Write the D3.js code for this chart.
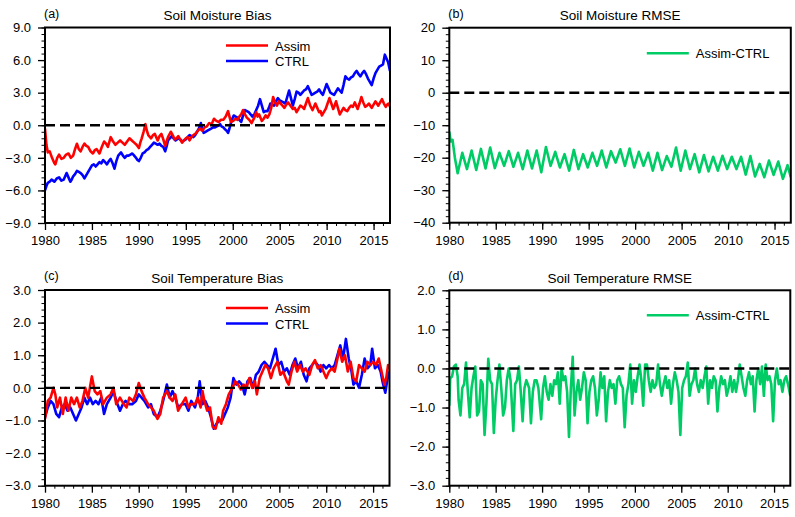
<!DOCTYPE html>
<html><head><meta charset="utf-8">
<script src="https://cdn.jsdelivr.net/npm/d3@7"></script>
<style>
html,body{margin:0;padding:0;background:#fff;}
svg{display:block;font-family:"Liberation Sans",Arial,Helvetica,sans-serif;}
</style></head>
<body>
<svg id="chart" width="795" height="517"></svg>
<script>
// ---------- DATA ----------
const xTickYears = [1980,1985,1990,1995,2000,2005,2010,2015];
const panelTitles = ["Soil Moisture Bias","Soil Moisture RMSE","Soil Temperature Bias","Soil Temperature RMSE"];
const panelLetters = ["(a)","(b)","(c)","(d)"];
const yTicksA = [-9,-6,-3,0,3,6,9];
const yTicksB = [-40,-30,-20,-10,0,10,20];
const yTicksC = [-3,-2,-1,0,1,2,3];
const yTicksD = [-3,-2,-1,0,1,2];
const legendA = ["Assim","CTRL"];
const legendB = ["Assim-CTRL"];

// (a) soil moisture bias, Assim
const smBiasAssim = [[1980.0,-0.3],[1980.15,-1.8],[1980.3,-2.5],[1980.5,-2.4],[1980.75,-3.0],[1981.0,-3.5],[1981.1,-3.6],[1981.3,-3.0],[1981.5,-2.7],[1981.75,-3.1],[1982.0,-3.0],[1982.25,-2.7],[1982.5,-2.6],[1982.75,-3.0],[1983.0,-2.8],[1983.2,-2.2],[1983.4,-1.7],[1983.6,-2.2],[1983.8,-2.4],[1984.0,-2.0],[1984.2,-1.7],[1984.4,-1.9],[1984.6,-2.0],[1984.85,-2.4],[1985.1,-2.6],[1985.3,-2.3],[1985.5,-2.2],[1985.8,-2.6],[1986.05,-2.0],[1986.3,-1.5],[1986.5,-1.7],[1986.7,-2.0],[1987.0,-1.1],[1987.25,-1.5],[1987.5,-1.8],[1987.75,-1.6],[1988.0,-1.4],[1988.25,-1.6],[1988.5,-1.8],[1988.75,-1.5],[1989.0,-1.2],[1989.25,-1.4],[1989.5,-1.6],[1989.75,-1.8],[1990.0,-2.1],[1990.15,-1.6],[1990.3,-1.2],[1990.5,-0.6],[1990.7,0.1],[1990.85,-0.5],[1991.0,-0.9],[1991.3,-1.2],[1991.5,-0.9],[1991.7,-0.8],[1992.0,-1.4],[1992.2,-1.0],[1992.4,-0.8],[1992.6,-1.3],[1992.8,-1.9],[1993.1,-1.1],[1993.4,-0.6],[1993.6,-0.9],[1993.8,-1.3],[1994.0,-1.2],[1994.2,-1.0],[1994.4,-1.3],[1994.6,-1.6],[1994.8,-1.4],[1995.0,-1.2],[1995.2,-1.1],[1995.4,-1.4],[1995.6,-1.1],[1995.8,-0.9],[1996.0,-0.8],[1996.2,-0.6],[1996.5,-0.3],[1996.75,-0.5],[1997.0,-0.2],[1997.25,-0.1],[1997.5,0.2],[1997.75,0.1],[1998.0,0.6],[1998.25,0.4],[1998.5,0.3],[1998.75,0.5],[1999.0,0.5],[1999.25,0.8],[1999.5,1.3],[1999.65,0.8],[1999.8,0.3],[2000.05,0.4],[2000.3,0.6],[2000.5,0.5],[2000.7,0.8],[2000.9,1.0],[2001.1,1.4],[2001.3,1.0],[2001.5,0.7],[2001.75,0.5],[2002.0,0.2],[2002.25,0.6],[2002.5,1.2],[2002.65,0.8],[2002.8,1.0],[2003.1,0.4],[2003.3,0.6],[2003.5,0.9],[2003.7,0.7],[2003.9,1.0],[2004.1,1.6],[2004.3,2.6],[2004.5,2.1],[2004.7,1.8],[2004.9,2.2],[2005.1,2.0],[2005.3,1.8],[2005.5,1.6],[2005.7,1.9],[2005.9,2.1],[2006.15,1.8],[2006.4,1.5],[2006.6,1.6],[2006.8,1.2],[2007.0,1.5],[2007.2,1.8],[2007.4,1.7],[2007.6,1.5],[2007.8,2.0],[2008.0,2.5],[2008.25,1.8],[2008.5,1.4],[2008.65,1.7],[2008.8,2.0],[2009.0,1.6],[2009.2,1.2],[2009.35,1.3],[2009.5,0.9],[2009.7,1.2],[2009.9,1.5],[2010.1,2.0],[2010.3,2.5],[2010.5,2.0],[2010.7,1.5],[2010.85,1.8],[2011.0,2.2],[2011.2,1.6],[2011.4,1.0],[2011.6,1.3],[2011.8,1.6],[2012.0,1.4],[2012.2,1.3],[2012.4,1.6],[2012.6,1.8],[2012.8,1.7],[2013.0,2.1],[2013.15,1.8],[2013.3,1.5],[2013.5,2.0],[2013.7,2.6],[2013.9,2.1],[2014.1,1.7],[2014.3,1.8],[2014.5,2.0],[2014.65,1.8],[2014.8,1.6],[2015.0,1.9],[2015.2,2.2],[2015.35,2.0],[2015.5,1.8],[2015.7,2.1],[2015.9,2.4],[2016.1,2.0],[2016.3,1.7],[2016.45,1.9],[2016.6,2.0],[2016.75,1.7]];
// (a) soil moisture bias, CTRL
const smBiasCtrl = [[1980.0,-6.0],[1980.15,-5.6],[1980.3,-5.3],[1980.5,-5.2],[1980.7,-5.0],[1980.85,-5.1],[1981.0,-5.2],[1981.25,-4.9],[1981.5,-4.8],[1981.75,-5.1],[1982.0,-5.0],[1982.3,-4.4],[1982.5,-4.8],[1982.7,-5.2],[1982.85,-5.0],[1983.0,-4.7],[1983.2,-4.5],[1983.4,-4.2],[1983.6,-4.3],[1983.8,-4.4],[1984.0,-4.6],[1984.2,-4.9],[1984.4,-4.6],[1984.6,-4.3],[1984.8,-4.0],[1985.0,-3.7],[1985.2,-3.6],[1985.4,-3.8],[1985.6,-3.6],[1985.8,-3.4],[1986.0,-3.5],[1986.2,-3.2],[1986.4,-3.4],[1986.6,-3.6],[1986.8,-3.3],[1987.0,-3.1],[1987.2,-3.5],[1987.4,-4.0],[1987.6,-3.3],[1987.8,-2.8],[1988.1,-2.5],[1988.3,-2.8],[1988.5,-3.0],[1988.7,-2.8],[1988.9,-2.8],[1989.1,-2.7],[1989.3,-2.6],[1989.5,-2.8],[1989.7,-3.0],[1989.85,-3.2],[1990.0,-3.3],[1990.2,-3.0],[1990.4,-2.6],[1990.6,-2.5],[1990.8,-2.3],[1991.0,-2.2],[1991.2,-2.0],[1991.4,-1.8],[1991.6,-1.6],[1991.8,-1.7],[1992.0,-1.8],[1992.2,-1.7],[1992.4,-1.9],[1992.6,-2.0],[1992.8,-2.4],[1993.0,-1.8],[1993.1,-1.4],[1993.3,-1.2],[1993.5,-1.0],[1993.7,-1.2],[1993.9,-1.4],[1994.05,-1.3],[1994.2,-1.2],[1994.4,-1.3],[1994.6,-1.5],[1994.8,-1.4],[1995.0,-1.3],[1995.2,-1.1],[1995.4,-0.9],[1995.6,-1.0],[1995.8,-1.1],[1996.0,-0.9],[1996.2,-0.6],[1996.4,-0.3],[1996.6,0.2],[1996.75,-0.3],[1996.9,-0.7],[1997.1,-0.6],[1997.3,-0.5],[1997.5,-0.4],[1997.7,-0.3],[1997.9,-0.2],[1998.1,-0.2],[1998.3,-0.1],[1998.5,0.0],[1998.65,0.1],[1998.8,-0.1],[1999.0,-0.2],[1999.2,-0.4],[1999.35,-0.5],[1999.5,-0.7],[1999.65,-0.3],[1999.8,0.2],[1999.95,0.6],[2000.1,0.9],[2000.3,0.8],[2000.5,0.7],[2000.7,0.5],[2000.9,0.3],[2001.1,0.9],[2001.3,1.4],[2001.5,1.3],[2001.7,1.2],[2001.9,1.0],[2002.1,0.8],[2002.3,1.0],[2002.5,1.4],[2002.7,1.8],[2002.9,2.4],[2003.1,1.8],[2003.3,1.2],[2003.5,1.3],[2003.7,1.3],[2003.85,1.6],[2004.0,2.0],[2004.2,1.9],[2004.4,1.8],[2004.6,2.2],[2004.8,2.5],[2005.0,2.3],[2005.2,2.2],[2005.4,2.1],[2005.6,2.0],[2005.8,2.6],[2006.0,3.2],[2006.2,2.5],[2006.4,1.8],[2006.6,2.4],[2006.8,3.1],[2007.0,3.0],[2007.2,2.8],[2007.4,3.0],[2007.6,3.2],[2007.8,3.3],[2008.0,3.6],[2008.2,3.2],[2008.4,2.8],[2008.6,2.9],[2008.8,3.0],[2009.0,3.1],[2009.2,3.3],[2009.4,3.0],[2009.6,2.8],[2009.8,3.3],[2010.0,3.8],[2010.2,3.4],[2010.4,3.0],[2010.6,2.9],[2010.8,2.8],[2011.0,3.1],[2011.2,3.4],[2011.4,3.2],[2011.6,3.0],[2011.8,3.7],[2012.0,4.5],[2012.2,4.3],[2012.4,4.2],[2012.6,4.4],[2012.8,4.5],[2013.0,4.8],[2013.2,5.0],[2013.4,4.7],[2013.6,4.5],[2013.8,4.8],[2014.0,5.0],[2014.2,4.7],[2014.4,4.3],[2014.6,4.0],[2014.8,3.7],[2015.0,4.3],[2015.2,4.8],[2015.4,5.1],[2015.6,5.4],[2015.8,5.5],[2016.0,5.6],[2016.2,6.5],[2016.4,6.1],[2016.55,5.8],[2016.75,5.0]];
// (b) soil moisture RMSE difference
const smRmse = [[1980.0,-12.0],[1980.15,-15.0],[1980.35,-14.5],[1980.6,-20.0],[1980.9,-24.8],[1981.4,-18.5],[1981.9,-23.5],[1982.4,-17.8],[1982.9,-23.8],[1983.4,-17.3],[1983.9,-23.3],[1984.4,-16.9],[1984.9,-23.2],[1985.4,-18.5],[1985.9,-22.5],[1986.4,-18.0],[1986.9,-22.8],[1987.4,-18.5],[1987.9,-23.5],[1988.4,-17.8],[1988.9,-23.3],[1989.4,-17.8],[1989.9,-24.5],[1990.4,-16.7],[1990.9,-22.5],[1991.4,-18.2],[1991.9,-23.0],[1992.4,-18.9],[1992.9,-24.0],[1993.4,-17.6],[1993.9,-23.5],[1994.4,-18.9],[1994.9,-23.0],[1995.4,-18.5],[1995.9,-22.5],[1996.4,-17.8],[1996.9,-23.0],[1997.4,-18.0],[1997.9,-21.5],[1998.4,-17.4],[1998.9,-22.5],[1999.4,-17.2],[1999.9,-23.0],[2000.4,-18.2],[2000.9,-22.5],[2001.4,-18.5],[2001.9,-24.0],[2002.4,-18.5],[2002.9,-23.8],[2003.4,-19.5],[2003.9,-22.8],[2004.4,-16.9],[2004.9,-24.0],[2005.4,-17.8],[2005.9,-23.5],[2006.4,-18.9],[2006.9,-24.5],[2007.4,-19.2],[2007.9,-24.2],[2008.4,-19.7],[2008.9,-24.0],[2009.4,-19.4],[2009.9,-23.5],[2010.4,-19.7],[2010.9,-23.5],[2011.4,-19.7],[2011.9,-25.2],[2012.4,-19.5],[2012.9,-25.8],[2013.4,-21.9],[2013.9,-26.0],[2014.4,-20.9],[2014.9,-25.3],[2015.4,-21.2],[2015.9,-26.5],[2016.4,-22.3],[2016.75,-26.0]];
// (c) soil temperature bias, Assim
const stBiasAssim = [[1980.0,-0.95],[1980.3,-0.4],[1980.6,-0.3],[1980.9,0.0],[1981.1,-0.2],[1981.3,-0.6],[1981.6,-0.3],[1981.9,-0.8],[1982.2,-0.3],[1982.5,-0.7],[1982.8,-0.3],[1983.1,-0.5],[1983.4,-0.3],[1983.7,-0.6],[1984.0,-0.4],[1984.3,0.0],[1984.6,-0.3],[1985.0,0.35],[1985.3,-0.1],[1985.6,-0.2],[1985.9,-0.1],[1986.2,-0.5],[1986.6,-0.3],[1987.0,-0.2],[1987.3,0.0],[1987.6,-0.5],[1988.0,-0.3],[1988.4,-0.5],[1988.7,-0.6],[1989.0,-0.3],[1989.4,-0.4],[1989.7,-0.2],[1990.0,0.15],[1990.3,-0.1],[1990.6,-0.3],[1991.0,-0.5],[1991.3,-0.6],[1991.6,-0.7],[1992.0,-0.95],[1992.3,-0.8],[1992.6,-0.3],[1993.0,-0.1],[1993.3,-0.3],[1993.6,-0.4],[1993.9,-0.2],[1994.2,-0.7],[1994.6,-0.5],[1995.0,-0.3],[1995.3,-0.6],[1995.6,-0.5],[1996.0,-0.5],[1996.3,-0.3],[1996.6,-0.6],[1996.8,-0.1],[1997.0,-0.4],[1997.3,-0.7],[1997.6,-0.6],[1997.9,-1.2],[1998.2,-1.25],[1998.5,-0.9],[1998.8,-1.1],[1999.0,-0.7],[1999.3,-0.5],[1999.6,-0.2],[2000.0,0.0],[2000.3,0.2],[2000.6,0.1],[2000.9,-0.05],[2001.2,0.1],[2001.5,0.0],[2001.8,0.3],[2002.1,0.0],[2002.4,0.2],[2002.6,-0.2],[2002.9,0.3],[2003.2,0.5],[2003.5,0.7],[2003.8,0.6],[2004.1,0.3],[2004.4,0.6],[2004.8,0.8],[2005.1,0.4],[2005.4,0.5],[2005.8,0.2],[2006.0,0.1],[2006.3,0.5],[2006.6,0.8],[2006.9,0.5],[2007.2,0.7],[2007.5,0.5],[2007.8,0.6],[2008.2,0.4],[2008.5,0.7],[2008.8,0.85],[2009.1,0.6],[2009.4,0.7],[2009.7,0.5],[2010.0,0.3],[2010.3,0.5],[2010.6,0.6],[2010.9,0.5],[2011.2,0.9],[2011.4,1.2],[2011.7,0.8],[2012.0,1.0],[2012.3,0.5],[2012.6,0.8],[2012.9,0.3],[2013.2,0.2],[2013.5,0.7],[2013.8,0.6],[2014.1,0.5],[2014.4,0.8],[2014.7,0.7],[2015.0,0.8],[2015.3,0.7],[2015.6,0.9],[2015.9,0.5],[2016.2,0.1],[2016.4,0.3],[2016.6,0.7],[2016.75,0.6]];
// (c) soil temperature bias, CTRL
const stBiasCtrl = [[1980.0,-0.9],[1980.3,-0.6],[1980.6,-0.4],[1980.9,-0.5],[1981.2,-0.8],[1981.5,-0.9],[1981.8,-0.6],[1982.1,-0.5],[1982.4,-0.7],[1982.7,-0.6],[1983.0,-0.8],[1983.3,-1.0],[1983.6,-0.8],[1983.9,-0.6],[1984.2,-0.3],[1984.5,-0.5],[1984.8,-0.3],[1985.1,-0.5],[1985.4,-0.4],[1985.7,-0.5],[1986.0,-0.3],[1986.3,-0.8],[1986.6,-0.5],[1987.0,-0.3],[1987.3,-0.1],[1987.6,-0.4],[1988.0,-0.7],[1988.3,-0.5],[1988.6,-0.4],[1989.0,-0.5],[1989.3,-0.5],[1989.7,-0.4],[1990.0,-0.2],[1990.3,-0.3],[1990.6,-0.4],[1991.0,-0.6],[1991.3,-0.5],[1991.6,-0.8],[1992.0,-0.9],[1992.3,-0.7],[1992.6,-0.4],[1993.0,0.1],[1993.3,-0.3],[1993.6,-0.1],[1993.9,-0.3],[1994.2,-0.6],[1994.6,-0.5],[1995.0,-0.5],[1995.3,-0.7],[1995.6,-0.4],[1996.0,-0.6],[1996.3,-0.3],[1996.5,0.2],[1996.8,-0.5],[1997.1,-0.4],[1997.4,-0.6],[1997.7,-0.9],[1998.0,-1.25],[1998.3,-1.1],[1998.6,-1.0],[1998.9,-1.0],[1999.2,-0.8],[1999.5,-0.6],[1999.8,-0.3],[2000.1,0.3],[2000.4,0.1],[2000.7,0.2],[2001.0,0.1],[2001.3,-0.2],[2001.6,0.2],[2001.9,0.3],[2002.2,0.0],[2002.5,0.4],[2002.8,0.5],[2003.1,0.7],[2003.4,0.8],[2003.7,0.7],[2004.0,0.6],[2004.3,0.9],[2004.6,1.2],[2004.9,0.7],[2005.2,0.8],[2005.5,0.5],[2005.8,0.6],[2006.1,0.4],[2006.4,0.7],[2006.7,0.9],[2007.0,0.6],[2007.3,0.8],[2007.6,0.4],[2007.9,0.2],[2008.2,0.6],[2008.5,0.7],[2008.8,0.8],[2009.1,0.7],[2009.4,0.5],[2009.7,0.7],[2010.0,0.6],[2010.3,0.7],[2010.6,0.6],[2010.9,0.7],[2011.2,1.0],[2011.5,1.3],[2011.8,0.9],[2012.1,1.5],[2012.4,0.9],[2012.7,0.5],[2012.9,0.1],[2013.2,0.2],[2013.5,0.0],[2013.8,0.4],[2014.1,0.9],[2014.4,0.6],[2014.7,0.7],[2014.9,1.2],[2015.2,0.6],[2015.5,0.7],[2015.8,0.5],[2016.0,0.2],[2016.3,-0.15],[2016.55,0.3],[2016.75,0.5]];
// (d) soil temperature RMSE difference
const stRmse = [[1980.0,-0.95],[1980.1,-0.25],[1980.3,-0.2],[1980.5,0.05],[1980.7,0.1],[1980.9,-0.2],[1981.0,-0.8],[1981.2,-1.2],[1981.4,-0.5],[1981.6,-0.4],[1981.8,0.15],[1982.0,-0.6],[1982.2,-1.25],[1982.4,-0.5],[1982.6,-0.2],[1982.8,0.05],[1983.0,-1.2],[1983.2,-1.1],[1983.4,-0.3],[1983.6,-0.4],[1983.8,-1.7],[1984.0,-0.9],[1984.2,0.25],[1984.4,-0.3],[1984.6,-0.4],[1984.8,-1.65],[1985.0,-0.8],[1985.2,-0.3],[1985.4,0.1],[1985.6,-0.5],[1985.8,-1.2],[1986.0,-1.0],[1986.2,-0.3],[1986.4,0.0],[1986.6,-0.3],[1986.9,-1.6],[1987.1,-0.4],[1987.3,-0.3],[1987.5,0.05],[1987.7,-0.6],[1987.9,-1.35],[1988.1,-0.5],[1988.3,-0.3],[1988.6,-0.5],[1988.8,-1.4],[1989.0,-0.6],[1989.2,-0.3],[1989.4,-0.3],[1989.6,-0.5],[1989.9,-1.3],[1990.1,-0.5],[1990.3,-0.2],[1990.5,-0.6],[1990.7,-0.8],[1990.9,-0.4],[1991.1,-0.7],[1991.3,-0.3],[1991.5,-0.4],[1991.7,-0.1],[1991.9,-0.9],[1992.1,0.0],[1992.3,-0.3],[1992.5,-0.2],[1992.7,-0.6],[1992.9,-1.75],[1993.1,-0.5],[1993.3,0.3],[1993.5,-1.2],[1993.7,-0.6],[1993.9,-0.3],[1994.1,-0.8],[1994.3,-0.5],[1994.5,-0.1],[1994.7,-0.3],[1994.9,-1.4],[1995.1,-0.6],[1995.3,-0.3],[1995.5,-0.2],[1995.7,-0.5],[1995.9,-1.2],[1996.1,-0.8],[1996.3,-0.1],[1996.5,-0.5],[1996.7,-0.2],[1996.9,-1.35],[1997.1,-0.6],[1997.3,-0.3],[1997.5,-0.5],[1997.7,-0.4],[1997.9,-0.9],[1998.1,-0.3],[1998.3,-0.2],[1998.5,-0.4],[1998.7,-0.5],[1998.9,-1.5],[1999.1,-0.7],[1999.3,-0.4],[1999.5,0.1],[1999.7,-0.9],[1999.9,-0.3],[2000.1,-0.6],[2000.3,-0.2],[2000.5,0.1],[2000.7,-0.3],[2000.9,-0.95],[2001.1,0.1],[2001.3,0.1],[2001.5,-0.3],[2001.7,-0.6],[2001.9,-0.3],[2002.1,-0.5],[2002.3,-0.4],[2002.5,0.1],[2002.7,-0.4],[2002.9,-0.7],[2003.1,-0.4],[2003.3,-0.2],[2003.5,-0.5],[2003.7,-0.3],[2003.9,-0.9],[2004.1,-0.4],[2004.3,-0.1],[2004.5,-0.3],[2004.7,-0.6],[2004.9,-1.7],[2005.1,-0.5],[2005.3,-0.3],[2005.5,-0.2],[2005.7,0.15],[2005.9,-0.7],[2006.1,-0.4],[2006.3,-0.3],[2006.5,0.0],[2006.7,-0.4],[2006.9,-0.6],[2007.1,-0.3],[2007.3,-0.5],[2007.5,-0.2],[2007.7,0.05],[2007.9,-0.9],[2008.1,-0.3],[2008.3,-0.5],[2008.5,-0.2],[2008.7,-0.3],[2008.9,-1.1],[2009.1,-0.5],[2009.3,-0.2],[2009.5,-0.4],[2009.7,-0.3],[2009.9,-0.7],[2010.1,-0.5],[2010.3,-0.2],[2010.5,-0.6],[2010.7,-0.3],[2010.9,-0.6],[2011.1,-0.3],[2011.3,0.1],[2011.5,-0.2],[2011.7,-0.5],[2011.9,-0.7],[2012.1,-0.3],[2012.3,-0.1],[2012.5,-0.4],[2012.7,-0.2],[2012.9,-1.1],[2013.1,-0.3],[2013.3,0.0],[2013.5,-0.4],[2013.7,0.05],[2013.9,-0.7],[2014.1,0.1],[2014.3,-0.3],[2014.5,-0.2],[2014.7,-0.4],[2014.9,-1.35],[2015.1,-0.3],[2015.3,0.0],[2015.5,-0.4],[2015.7,-0.3],[2015.9,-0.6],[2016.1,-0.3],[2016.3,-0.2],[2016.5,-0.4],[2016.75,-0.7]];

// ---------- LAYOUT ----------
const svg = d3.select("#chart");
const xDomain = [1980, 2016.75];
const FONT = 13;
const RED = "#ff0000", BLUE = "#0000ff", GREEN = "#00cc66";

const panels = [
  {left:45, top:27.5, w:345, h:195.5, yDom:[-9,9], yTicks:yTicksA, yMinor:0.6, fmt:d3.format(".1f"),
   series:[{data:smBiasAssim,color:RED},{data:smBiasCtrl,color:BLUE}], legend:legendA, legX:181, legY:18},
  {left:449.3, top:27.7, w:341.5, h:195, yDom:[-40,20], yTicks:yTicksB, yMinor:2, fmt:d3.format("d"),
   series:[{data:smRmse,color:GREEN}], legend:legendB, legX:197.5, legY:25.6},
  {left:45, top:290, w:344.5, h:195.7, yDom:[-3,3], yTicks:yTicksC, yMinor:0.2, fmt:d3.format(".1f"),
   series:[{data:stBiasAssim,color:RED},{data:stBiasCtrl,color:BLUE}], legend:legendA, legX:181, legY:18},
  {left:449.3, top:290.3, w:341, h:195.4, yDom:[-3,2], yTicks:yTicksD, yMinor:0.2, fmt:d3.format(".1f"),
   series:[{data:stRmse,color:GREEN}], legend:legendB, legX:197.5, legY:25}
];

panels.forEach((p, i) => {
  const g = svg.append("g").attr("transform", `translate(${p.left},${p.top})`);
  const x = d3.scaleLinear().domain(xDomain).range([0, p.w]);
  const y = d3.scaleLinear().domain(p.yDom).range([p.h, 0]);

  const clipId = "clip" + i;
  g.append("clipPath").attr("id", clipId).append("rect")
    .attr("x", 0).attr("y", 0).attr("width", p.w).attr("height", p.h);

  // minor ticks
  const yMinorVals = d3.range(p.yDom[0], p.yDom[1] + 1e-9, p.yMinor).map(v => +v.toFixed(4));
  const xMinorVals = d3.range(1980, 2017, 1).filter(v => v <= xDomain[1]);
  const yMinorAxis = d3.axisLeft(y).tickValues(yMinorVals).tickSize(3.5).tickFormat("");
  const xMinorAxis = d3.axisBottom(x).tickValues(xMinorVals).tickSize(3).tickFormat("");
  g.append("g").call(yMinorAxis).call(s => s.select(".domain").remove())
    .selectAll("line").attr("stroke", "#000").attr("stroke-width", 1);
  g.append("g").attr("transform", `translate(0,${p.h})`).call(xMinorAxis)
    .call(s => s.select(".domain").remove())
    .selectAll("line").attr("stroke", "#000").attr("stroke-width", 1);

  // major axes
  const yAxis = d3.axisLeft(y).tickValues(p.yTicks).tickSize(7).tickPadding(7).tickFormat(p.fmt);
  const xAxis = d3.axisBottom(x).tickValues(xTickYears).tickSize(7).tickPadding(6).tickFormat(d3.format("d"));
  const ya = g.append("g").call(yAxis);
  ya.select(".domain").remove();
  ya.selectAll("line").attr("stroke", "#000").attr("stroke-width", 1.3);
  ya.selectAll("text").attr("font-size", FONT).attr("font-family", "Liberation Sans, Arial, sans-serif").attr("fill", "#000");
  const xa = g.append("g").attr("transform", `translate(0,${p.h})`).call(xAxis);
  xa.select(".domain").remove();
  xa.selectAll("line").attr("stroke", "#000").attr("stroke-width", 1.3);
  xa.selectAll("text").attr("font-size", FONT).attr("font-family", "Liberation Sans, Arial, sans-serif").attr("fill", "#000");

  // data lines
  const line = d3.line().x(d => x(d[0])).y(d => y(d[1]));
  const lg = g.append("g").attr("clip-path", `url(#${clipId})`);
  p.series.slice().reverse().forEach(s => {
    lg.append("path").datum(s.data).attr("d", line)
      .attr("fill", "none").attr("stroke", s.color).attr("stroke-width", 2.6)
      .attr("stroke-linejoin", "round");
  });

  // zero dashed line
  g.append("line").attr("x1", 0).attr("x2", p.w).attr("y1", y(0)).attr("y2", y(0))
    .attr("stroke", "#000").attr("stroke-width", 2.4).attr("stroke-dasharray", "10,5");

  // frame
  g.append("rect").attr("x", 0).attr("y", 0).attr("width", p.w).attr("height", p.h)
    .attr("fill", "none").attr("stroke", "#000").attr("stroke-width", 2);

  // titles
  g.append("text").attr("x", p.w / 2).attr("y", -7.5).attr("text-anchor", "middle")
    .attr("font-size", 13.5).attr("fill", "#000").text(panelTitles[i]);
  g.append("text").attr("x", -1).attr("y", -10).attr("text-anchor", "start")
    .attr("font-size", 12.5).attr("fill", "#000").text(panelLetters[i]);

  // legend
  p.legend.forEach((name, k) => {
    const ly = p.legY + k * 15.5;
    g.append("line").attr("x1", p.legX).attr("x2", p.legX + 42).attr("y1", ly).attr("y2", ly)
      .attr("stroke", p.series[k].color).attr("stroke-width", 2.6);
    g.append("text").attr("x", p.legX + 49).attr("y", ly + 5).attr("font-size", FONT)
      .attr("fill", "#000").text(name);
  });
});
</script>
</body></html>
